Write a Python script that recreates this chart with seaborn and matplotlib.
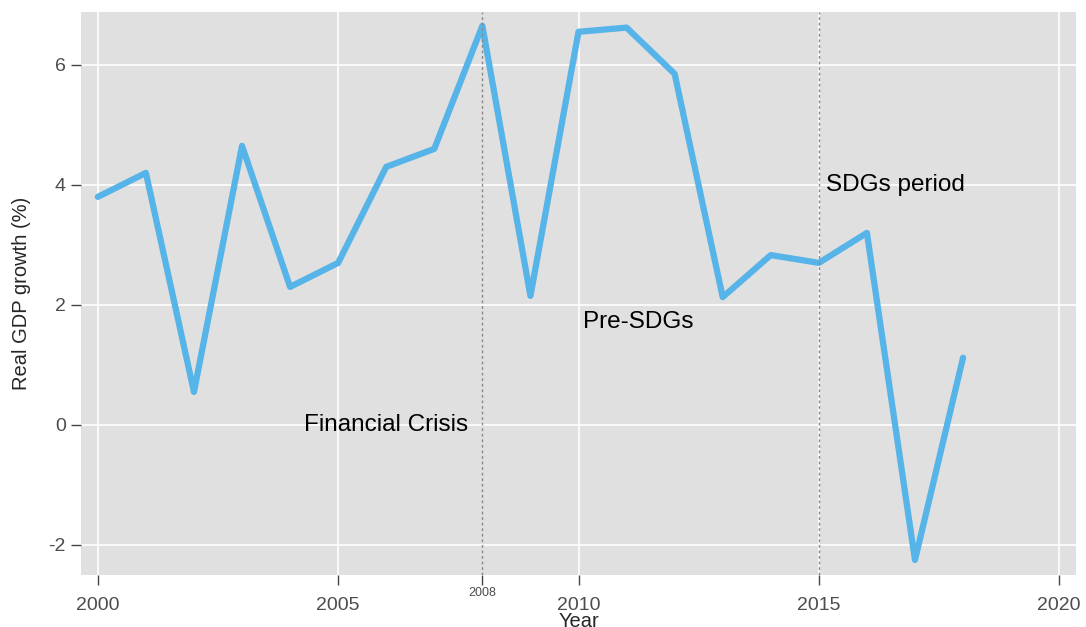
import matplotlib
matplotlib.use("Agg")
import matplotlib.pyplot as plt
import seaborn as sns
import pandas as pd

# data
years = [2000, 2001, 2002, 2003, 2004, 2005, 2006, 2007, 2008, 2009,
         2010, 2011, 2012, 2013, 2014, 2015, 2016, 2017, 2018]
gdp_growth = [3.8, 4.2, 0.55, 4.65, 2.3, 2.7, 4.3, 4.6, 6.65, 2.15,
              6.55, 6.62, 5.85, 2.13, 2.83, 2.7, 3.2, -2.25, 1.12]
event_years = [2008, 2015]
x_ticks = [2000, 2005, 2010, 2015, 2020]
y_ticks = [-2, 0, 2, 4, 6]
labels = ["Financial Crisis", "Pre-SDGs", "SDGs period"]
label_x = [2006.0, 2011.25, 2016.6]
label_y = [0.0, 1.72, 4.0]

df = pd.DataFrame({"Year": years, "growth": gdp_growth})

sns.set_style("darkgrid", {"axes.facecolor": "#E0E0E0", "grid.color": "white"})
plt.rcParams["font.family"] = ["Liberation Sans", "DejaVu Sans"]
plt.rcParams["axes.unicode_minus"] = False

fig = plt.figure(figsize=(10.86, 6.27), dpi=100)
ax = fig.add_axes([81 / 1086, 1 - 575 / 627, 995 / 1086, 563 / 627])

sns.lineplot(data=df, x="Year", y="growth", color="#56B4E9", linewidth=4.5, ax=ax)

for yr in event_years:
    ax.axvline(yr, color="#888888", linestyle=(0, (2, 2)), linewidth=1.0)

for txt, tx, ty in zip(labels, label_x, label_y):
    ax.text(tx, ty, txt, ha="center", va="center", fontsize=17.5, color="black")

ax.set_xlim(1999.65, 2020.35)
ax.set_ylim(-2.5, 6.88)
ax.set_xticks(x_ticks)
ax.set_xticks([2008], minor=True)
ax.set_yticks(y_ticks)
ax.grid(True, which="major", color="white", linewidth=1.2)
for s in ax.spines.values():
    s.set_visible(False)
ax.tick_params(axis="both", which="both", bottom=True, left=True, length=7,
               width=1, color="#444444", labelcolor="#4D4D4D", labelsize=14)
ax.tick_params(axis="x", which="major", pad=9)
ax.tick_params(axis="y", which="major", pad=4)

# small label for the crisis year under the axis
ax.text(2008, -0.022, "2008", transform=ax.get_xaxis_transform(),
        ha="center", va="top", fontsize=9, color="#4D4D4D")

ax.set_xlabel("Year", fontsize=14.5, va="center")
ax.xaxis.set_label_coords(0.5, -0.082)
ax.set_ylabel("Real GDP growth (%)", fontsize=14.5)
ax.yaxis.set_label_coords(-0.05, 0.5)

fig.savefig("out.png", dpi=100)
